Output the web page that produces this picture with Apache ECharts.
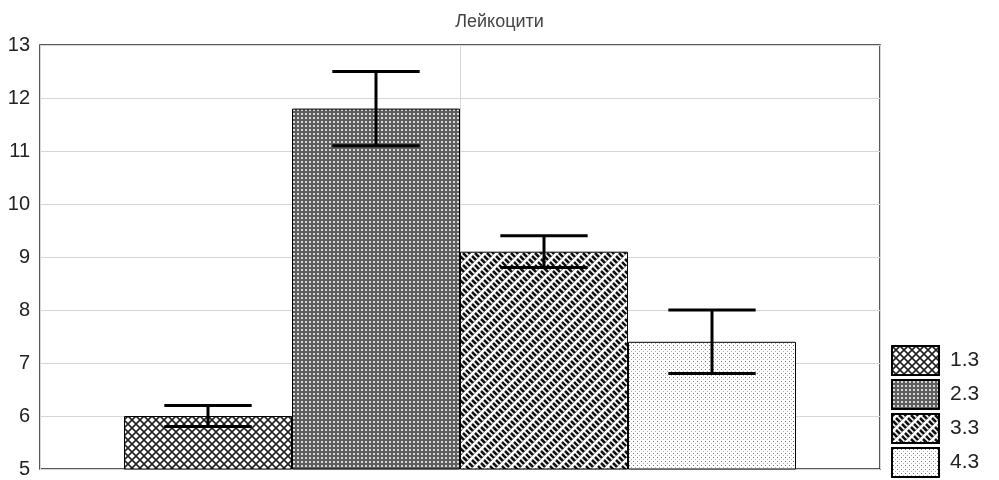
<!DOCTYPE html>
<html><head><meta charset="utf-8">
<script src="https://cdn.jsdelivr.net/npm/echarts@6/dist/echarts.min.js"></script>
<style>html,body{margin:0;padding:0;background:#fff}#c{width:999px;height:480px}</style>
</head><body><div id="c"></div>
<script>
const titleText = 'Лейкоцити';
const groups = ['1.3', '2.3', '3.3', '4.3'];
const positions = [1, 2, 3, 4];
const means = [6.0, 11.8, 9.1, 7.4];
const lows = [5.8, 11.1, 8.8, 6.8];
const highs = [6.2, 12.5, 9.4, 8.0];

function tile(w, h, draw) {
  const c = document.createElement('canvas');
  c.width = w; c.height = h;
  const g = c.getContext('2d');
  g.fillStyle = '#fff'; g.fillRect(0, 0, w, h);
  draw(g);
  return { image: c, repeat: 'repeat' };
}
const patterns = [
  tile(8, 8, g => {
    g.strokeStyle = '#222'; g.lineWidth = 1.6;
    g.beginPath();
    g.moveTo(0, 0); g.lineTo(8, 8);
    g.moveTo(8, 0); g.lineTo(0, 8);
    g.stroke();
  }),
  tile(4, 4, g => {
    g.fillStyle = '#5e5e5e'; g.fillRect(0, 0, 4, 4);
    g.fillStyle = '#d8d8d8'; g.fillRect(1, 1, 2, 2);
  }),
  tile(12, 12, g => {
    g.strokeStyle = '#111'; g.lineWidth = 2.5; g.lineCap = 'butt';
    g.beginPath();
    for (let a = -4; a <= 8; a++) {
      for (let b = -2; b <= 4; b++) {
        const cx = 3 * a + 6 * b, cy = -3 * a + 6 * b;
        if (cx < -4 || cx > 16 || cy < -4 || cy > 16) continue;
        g.moveTo(cx - 2, cy - 2); g.lineTo(cx + 2, cy + 2);
      }
    }
    g.stroke();
    g.lineWidth = 1; g.strokeStyle = '#555';
    g.beginPath();
    for (let a = -4; a <= 8; a++) {
      for (let b = -2; b <= 4; b++) {
        const cx = 3 * a + 6 * b, cy = -3 * a + 6 * b;
        if (cx < -4 || cx > 16 || cy < -4 || cy > 16) continue;
        g.moveTo(cx + 2, cy + 2); g.lineTo(cx + 3.5, cy + 0.5);
      }
    }
    g.stroke();
  }),
  tile(4, 4, g => {
    g.fillStyle = '#777'; g.fillRect(1, 1, 1, 1);
    g.fillStyle = '#aaa'; g.fillRect(3, 3, 1, 1);
  })
];

const barSeries = groups.map((name, i) => ({
  name: name,
  type: 'bar',
  barWidth: 168,
  barGap: '-100%',
  xAxisIndex: 0, yAxisIndex: 0,
  itemStyle: { color: patterns[i], borderColor: '#000', borderWidth: 1 },
  data: [[positions[i], means[i]]],
  z: 2
}));

const errSeries = {
  type: 'custom',
  name: 'err',
  xAxisIndex: 0, yAxisIndex: 0,
  z: 5,
  data: positions.map((p, i) => [p, lows[i], highs[i]]),
  renderItem: function (params, api) {
    const x = api.value(0);
    const lo = api.coord([x, api.value(1)]);
    const hi = api.coord([x, api.value(2)]);
    const hw = api.size([0.26, 0])[0];
    const st = { stroke: '#000', lineWidth: 3 };
    return { type: 'group', children: [
      { type: 'line', shape: { x1: lo[0], y1: lo[1], x2: hi[0], y2: hi[1] }, style: st },
      { type: 'line', shape: { x1: lo[0] - hw, y1: lo[1], x2: lo[0] + hw, y2: lo[1] }, style: st },
      { type: 'line', shape: { x1: hi[0] - hw, y1: hi[1], x2: hi[0] + hw, y2: hi[1] }, style: st }
    ]};
  }
};

const chart = echarts.init(document.getElementById('c'), null, { renderer: 'canvas' });
const tickLbl = { fontFamily: 'Liberation Sans, Arial, sans-serif', fontSize: 20, color: '#222' };
chart.setOption({
  animation: false,
  backgroundColor: '#fff',
  title: { text: titleText, left: 'center', top: 8,
    textStyle: { fontFamily: 'Liberation Sans, Arial, sans-serif', fontSize: 18, fontWeight: 'normal', color: '#444' } },
  grid: { left: 40, right: 119, top: 45, bottom: 11, show: true, borderColor: '#222', borderWidth: 1.5 },
  legend: {
    orient: 'vertical', left: 891, top: 345, width: 108, height: 200, itemWidth: 47, itemHeight: 29, itemGap: 3,
    padding: 0,
    icon: 'rect',
    data: groups,
    itemStyle: { borderColor: '#000', borderWidth: 2 },
    textStyle: Object.assign({ padding: [0, 0, 0, 6] }, tickLbl, { fontSize: 21 }),
    selectedMode: false
  },
  xAxis: [
    { type: 'value', min: 0, max: 5, interval: 2.5, position: 'bottom',
      axisLabel: { show: false }, axisLine: { show: false },
      axisTick: { show: false },
      splitLine: { show: true, lineStyle: { color: '#d6d6d6', width: 1 } } },
    { type: 'value', min: 0, max: 5, interval: 2.5, position: 'top',
      axisLabel: { show: false }, axisLine: { show: false },
      axisTick: { show: false },
      splitLine: { show: false } }
  ],
  yAxis: [
    { type: 'value', min: 5, max: 13, interval: 1, position: 'left',
      axisLabel: Object.assign({ margin: 10 }, tickLbl),
      axisLine: { show: false },
      axisTick: { show: false },
      splitLine: { show: true, lineStyle: { color: '#d6d6d6', width: 1 } } },
    { type: 'value', min: 5, max: 13, interval: 1, position: 'right',
      axisLabel: { show: false }, axisLine: { show: false },
      axisTick: { show: false },
      splitLine: { show: false } }
  ],
  series: barSeries.concat([errSeries])
});
</script></body></html>
